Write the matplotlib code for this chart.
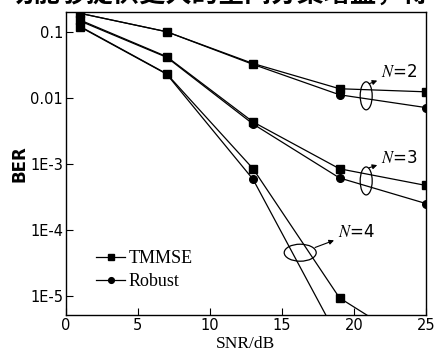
import numpy as np
import matplotlib
matplotlib.use("Agg")
import matplotlib.pyplot as plt
from matplotlib.patches import Ellipse
from matplotlib.transforms import ScaledTranslation

plt.rcParams['mathtext.fontset'] = 'stix'

# SNR points (dB)
snr = [1, 7, 13, 19, 25]

# BER per antenna count N
tmmse_n2 = [0.19, 0.100, 0.033, 0.0137, 0.0123]
robust_n2 = [0.19, 0.100, 0.032, 0.0111, 0.0071]
tmmse_n3 = [0.15, 0.042, 0.0043, 8.4e-4, 4.7e-4]
robust_n3 = [0.145, 0.041, 0.0040, 6.1e-4, 2.5e-4]
tmmse_n4 = [0.12, 0.0231, 8.4e-4, 9.3e-6, 1.4e-6]
robust_n4 = [0.118, 0.0228, 5.8e-4, 2.1e-6, 1e-7]

x_ticks = [0, 5, 10, 15, 20, 25]
y_ticks = [0.1, 0.01, 1e-3, 1e-4, 1e-5]
y_tick_labels = ['0.1', '0.01', '1E-3', '1E-4', '1E-5']

# group labels: (text, ellipse centre, ellipse w/h in px, arrow tail, text pos)
groups = [
    ('$N$=2', (20.85, 0.0107), (12, 28), (21.05, 0.0163), (21.9, 0.0245)),
    ('$N$=3', (20.85, 5.5e-4), (12, 28), (21.05, 8.7e-4), (21.9, 1.23e-3)),
    ('$N$=4', (16.27, 4.5e-5), (32, 17), (17.3, 5.4e-5), (18.9, 9.3e-5)),
]

fig = plt.figure(figsize=(4.36, 3.49), dpi=100)
ax = fig.add_axes([0.151, 0.097, 0.826, 0.869])

line_kw = dict(color='black', lw=0.9, ms=5.5, clip_on=True)
ax.plot(snr, tmmse_n2, marker='s', label='TMMSE', **line_kw)
ax.plot(snr, robust_n2, marker='o', label='Robust', **line_kw)
for series, m in [(tmmse_n3, 's'), (robust_n3, 'o'), (tmmse_n4, 's'), (robust_n4, 'o')]:
    ax.plot(snr, series, marker=m, **line_kw)

ax.set_yscale('log')
ax.set_xlim(0, 25)
ax.set_ylim(5.1e-6, 0.2)
ax.set_xticks(x_ticks)
ax.set_yticks(y_ticks)
ax.set_yticklabels(y_tick_labels)
ax.minorticks_off()
ax.tick_params(direction='in', length=5, width=0.8, labelsize=10.5, pad=2)
for sp in ax.spines.values():
    sp.set_linewidth(1.0)

ax.set_ylabel('BER', fontsize=12, fontweight='bold', labelpad=1)
ax.set_xlabel('SNR/dB', fontsize=12.5, family='Liberation Serif', labelpad=2)

for text, centre, size, tail, tpos in groups:
    trans = fig.dpi_scale_trans + ScaledTranslation(centre[0], centre[1], ax.transData)
    ax.add_patch(Ellipse((0, 0), size[0] / 100, size[1] / 100, transform=trans,
                         fill=False, ec='black', lw=0.9))
    ax.annotate(text, xy=tail, xytext=tpos, fontsize=12, va='center', ha='left',
                arrowprops=dict(arrowstyle='<|-', color='black', lw=0.8,
                                shrinkA=1, shrinkB=0, mutation_scale=7))

ax.legend(loc='lower left', bbox_to_anchor=(0.05, 0.04), frameon=False,
          prop={'family': 'Liberation Serif', 'size': 13}, handlelength=1.6,
          handletextpad=0.2, labelspacing=0.35, markerscale=0.75, borderpad=0.2)

fig.text(0.5, 1 - 8 / 349, '功能够提供更大的空间分集增益，得', ha='center', va='bottom',
         fontsize=19, fontweight='bold', family=['Noto Sans CJK SC', 'DejaVu Sans'])

fig.savefig('out.png', dpi=100)
